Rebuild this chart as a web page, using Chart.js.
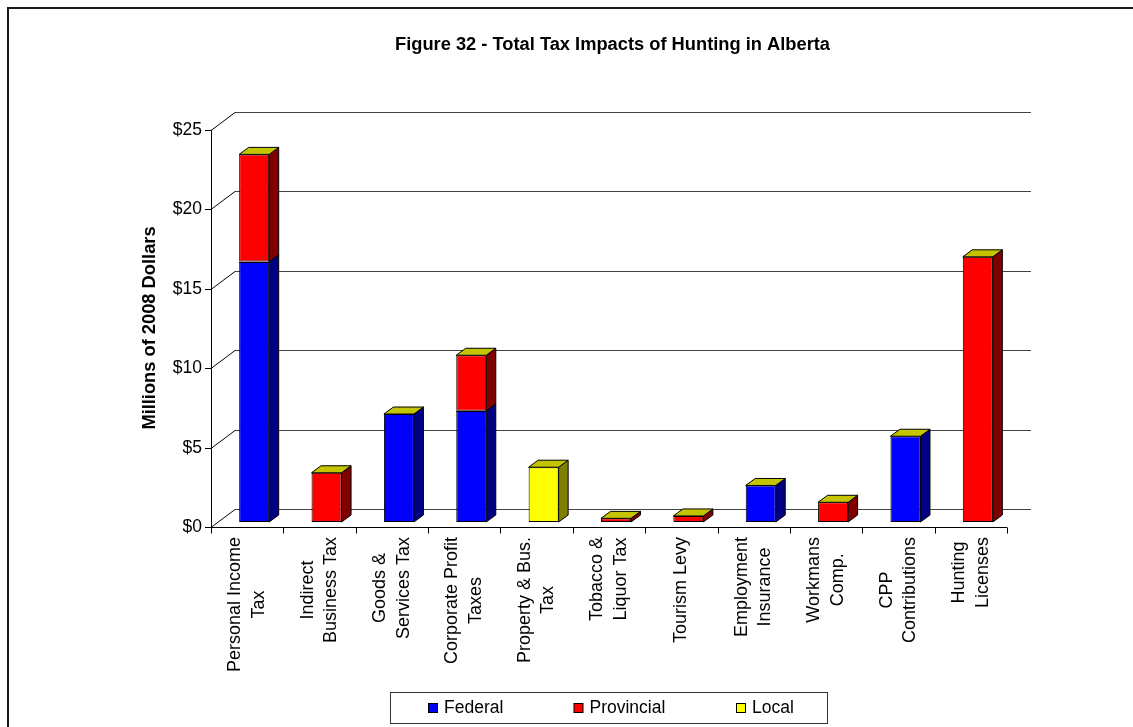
<!DOCTYPE html>
<html>
<head>
<meta charset="utf-8">
<script src="https://cdn.jsdelivr.net/npm/chart.js@4/dist/chart.umd.min.js"></script>
<style>
html,body{margin:0;padding:0;background:#fff;}
canvas{display:block;}
</style>
</head>
<body>
<canvas id="c" width="1133" height="727"></canvas>
<script>
// ---- data ----
const chartTitle = "Figure 32 - Total Tax Impacts of Hunting in Alberta";
const yAxisTitle = "Millions of 2008 Dollars";
const categories = [
  ["Personal Income","Tax"],
  ["Indirect","Business Tax"],
  ["Goods &","Services Tax"],
  ["Corporate Profit","Taxes"],
  ["Property & Bus.","Tax"],
  ["Tobacco &","Liquor Tax"],
  ["Tourism Levy"],
  ["Employment","Insurance"],
  ["Workmans","Comp."],
  ["CPP","Contributions"],
  ["Hunting","Licenses"]
];
const seriesNames = ["Federal","Provincial","Local"];
const federal    = [16.4, null, 6.8, 7.0, null, null, null, 2.3, null, 5.4, null];
const provincial = [6.75, 3.1, null, 3.5, null, 0.23, 0.38, null, 1.24, null, 16.7];
const local      = [null, null, null, null, 3.45, null, null, null, null, null, null];
const yTicks = [0, 5, 10, 15, 20, 25];
const yTickLabels = ["$0","$5","$10","$15","$20","$25"];

// ---- styles ----
const FRONT = ["#0000FF","#FF0000","#FFFF00"];
const SIDE  = ["#000080","#800000","#808000"];
const TOPC  = "#C4C400";
const FONT = "'Liberation Sans', Arial, sans-serif";
const WALL_DX = 24, WALL_DY = -18;
const BAR_SHIFT_X = 7, BAR_SHIFT_Y = -5;
const BAR_DX = 9.5, BAR_DY = -7;

function poly(ctx, pts, fill){
  ctx.beginPath();
  ctx.moveTo(pts[0][0], pts[0][1]);
  for (let i=1;i<pts.length;i++) ctx.lineTo(pts[i][0], pts[i][1]);
  ctx.closePath();
  ctx.fillStyle = fill; ctx.fill();
  ctx.strokeStyle = "#000"; ctx.lineWidth = 1; ctx.stroke();
}
function line(ctx, x1,y1,x2,y2, color, w){
  ctx.beginPath(); ctx.moveTo(x1,y1); ctx.lineTo(x2,y2);
  ctx.strokeStyle = color; ctx.lineWidth = w||1; ctx.stroke();
}

const threeD = {
  id: 'threeD',
  beforeDraw(chart){
    const ctx = chart.ctx;
    const a = chart.chartArea;
    const xs = chart.scales.x, ys = chart.scales.y;
    ctx.save();
    ctx.fillStyle = "#fff"; ctx.fillRect(0,0,chart.width,chart.height);
    // outer frame
    ctx.strokeStyle = "#1a1a1a"; ctx.lineWidth = 2;
    ctx.strokeRect(8, 8, 1140, 740);
    // title
    ctx.fillStyle = "#000";
    ctx.font = "bold 18.3px " + FONT;
    ctx.textAlign = "center"; ctx.textBaseline = "middle";
    ctx.fillText(chartTitle, 612.5, 45);
    // y-axis title
    ctx.save();
    ctx.translate(149.5, 328);
    ctx.rotate(-Math.PI/2);
    ctx.font = "bold 18.3px " + FONT;
    ctx.fillText(yAxisTitle, 0, 0);
    ctx.restore();

    // back wall gridlines and left wall diagonals
    yTicks.forEach((v,i)=>{
      const yf = Math.round(ys.getPixelForValue(v)) + 0.5;
      const yb = yf + WALL_DY;
      line(ctx, a.left + WALL_DX, yb, a.right + WALL_DX, yb, "#444", 1);
      line(ctx, a.left, yf, a.left + WALL_DX, yb, "#000", 1);
      line(ctx, a.left - 6, yf, a.left, yf, "#000", 1);
      ctx.font = "17.5px " + FONT;
      ctx.textAlign = "right"; ctx.textBaseline = "middle";
      ctx.fillStyle = "#000";
      ctx.fillText(yTickLabels[i], a.left - 9, yf);
    });
    // front y axis
    const xl = Math.round(a.left) + 0.5;
    line(ctx, xl, ys.getPixelForValue(yTicks[yTicks.length-1]), xl, a.bottom, "#000", 1);
    // x axis
    const yb0 = Math.round(a.bottom) + 0.5;
    line(ctx, a.left, yb0, a.right, yb0, "#000", 1);
    const n = categories.length;
    const step = xs.getPixelForValue(1) - xs.getPixelForValue(0);
    for (let i=0;i<=n;i++){
      const x = Math.round(xs.getPixelForValue(0) - step/2 + i*step) + 0.5;
      line(ctx, x, yb0, x, yb0 + 6, "#000", 1);
    }
    // category labels
    ctx.font = "18px " + FONT;
    ctx.fillStyle = "#000";
    ctx.textAlign = "center"; ctx.textBaseline = "middle";
    const lh = 23.5;
    categories.forEach((lines, i)=>{
      const cx = xs.getPixelForValue(i);
      let maxW = 0;
      lines.forEach(l=>{ maxW = Math.max(maxW, ctx.measureText(l).width); });
      const cy = a.bottom + 10 + maxW/2;
      lines.forEach((l, j)=>{
        const off = (j - (lines.length-1)/2) * lh;
        ctx.save();
        ctx.translate(cx + off, cy);
        ctx.rotate(-Math.PI/2);
        ctx.fillText(l, 0, 0);
        ctx.restore();
      });
    });

    // legend
    ctx.strokeStyle = "#333"; ctx.lineWidth = 1;
    ctx.strokeRect(390.5, 692.5, 437, 31);
    const lx = [428, 573.5, 736];
    ctx.font = "17.5px " + FONT;
    ctx.textAlign = "left"; ctx.textBaseline = "middle";
    chart.data.datasets.forEach((ds, i)=>{
      ctx.fillStyle = ds.backgroundColor;
      ctx.fillRect(lx[i]+0.5, 703.5, 9, 9);
      ctx.strokeStyle = "#000";
      ctx.strokeRect(lx[i]+0.5, 703.5, 9, 9);
      ctx.fillStyle = "#000";
      ctx.fillText(ds.label, lx[i] + 16, 708.5);
    });
    ctx.restore();
  },
  beforeDatasetsDraw(chart){
    chart.ctx.save();
    chart.ctx.translate(BAR_SHIFT_X, BAR_SHIFT_Y);
  },
  afterDatasetsDraw(chart){
    const ctx = chart.ctx;
    const n = categories.length;
    const metas = chart.data.datasets.map((d,i)=>chart.getDatasetMeta(i));
    for (let c=0;c<n;c++){
      let topIdx = -1;
      metas.forEach((m, di)=>{
        const v = chart.data.datasets[di].data[c];
        if (v === null || v === undefined || v === 0) return;
        const el = m.data[c];
        const xr = el.x + el.width/2;
        const yt = Math.min(el.y, el.base), ybm = Math.max(el.y, el.base);
        poly(ctx, [[xr, ybm],[xr, yt],[xr+BAR_DX, yt+BAR_DY],[xr+BAR_DX, ybm+BAR_DY]], SIDE[di]);
        if (topIdx >= 0) {
          // seam between stacked segments
          line(ctx, el.x - el.width/2, Math.round(ybm)+0.5, xr, Math.round(ybm)+0.5, "#000", 1);
        }
        topIdx = di;
      });
      if (topIdx >= 0){
        const el = metas[topIdx].data[c];
        const xl = el.x - el.width/2, xr = el.x + el.width/2;
        const yt = Math.min(el.y, el.base);
        poly(ctx, [[xl, yt],[xr, yt],[xr+BAR_DX, yt+BAR_DY],[xl+BAR_DX, yt+BAR_DY]], TOPC);
      }
    }
    ctx.restore();
  }
};

const seriesData = [federal, provincial, local];
new Chart(document.getElementById('c'), {
  type: 'bar',
  data: {
    labels: categories,
    datasets: seriesNames.map((name, i)=>({
      label: name,
      data: seriesData[i],
      backgroundColor: FRONT[i],
      borderColor: "#000",
      borderWidth: 1,
      borderSkipped: false,
      categoryPercentage: 1.0,
      barPercentage: 0.415,
      clip: false
    }))
  },
  options: {
    responsive: false,
    animation: false,
    events: [],
    layout: { padding: { left: 211, right: 126, top: 130, bottom: 200 } },
    plugins: { legend: { display: false }, title: { display: false }, tooltip: { enabled: false } },
    scales: {
      x: { display: false, stacked: true, offset: true },
      y: { display: false, stacked: true, min: 0, max: 25 }
    }
  },
  plugins: [threeD]
});
</script>
</body>
</html>
